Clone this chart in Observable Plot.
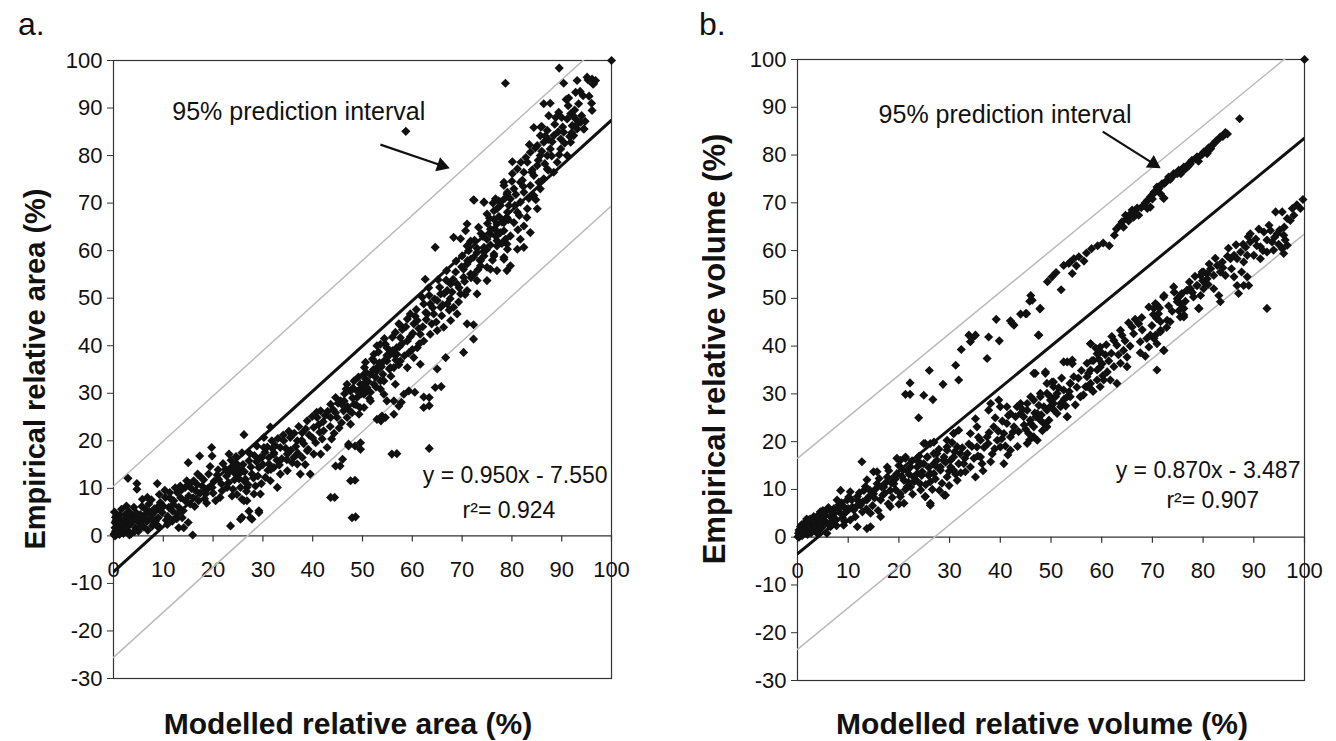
<!DOCTYPE html>
<html>
<head>
<meta charset="utf-8">
<script src="https://cdn.jsdelivr.net/npm/d3@7"></script>
<script src="https://cdn.jsdelivr.net/npm/@observablehq/plot@0.6"></script>
<style>
  html, body { margin: 0; padding: 0; background: #fff; }
  #wrap { position: relative; width: 1336px; height: 741px; background: #fff; font-family: "Liberation Sans", Arial, Helvetica, sans-serif; color: #111; overflow: hidden; }
  .pl { position: absolute; top: 0; }
  .lab { position: absolute; white-space: nowrap; line-height: 1; }
  .ytitle { position: absolute; white-space: nowrap; font-weight: bold; transform: translate(-50%, -50%) rotate(-90deg); line-height: 1; }
  .xtitle { position: absolute; white-space: nowrap; font-weight: bold; font-size: 30px; transform: translate(-50%, -50%); line-height: 1; }
</style>
</head>
<body>
<div id="wrap">
  <div id="pa" class="pl" style="left:0px"></div>
  <div id="pb" class="pl" style="left:668px"></div>
  <div class="lab" style="left:18px; top:8px; font-size:32px;">a.</div>
  <div class="lab" style="left:699px; top:8px; font-size:32px;">b.</div>
  <div class="ytitle" style="left:35px; top:369px; font-size:29px;">Empirical relative area (%)</div>
  <div class="ytitle" style="left:714px; top:349px; font-size:31px;">Empirical relative volume (%)</div>
  <div class="xtitle" style="left:348px; top:724px;">Modelled relative area (%)</div>
  <div class="xtitle" style="left:1042px; top:724px;">Modelled relative volume (%)</div>
</div>
<script>
// ---- tick labels ----
const xTicks = [0, 10, 20, 30, 40, 50, 60, 70, 80, 90, 100];
const yTicks = [-30, -20, -10, 0, 10, 20, 30, 40, 50, 60, 70, 80, 90, 100];

// ---- fitted lines (from the printed equations) ----
const fitSlopes = [0.950, 0.870];
const fitIntercepts = [-7.550, -3.487];
const predHalfWidths = [18.0, 20.0];
const equationTexts = ["y = 0.950x - 7.550", "y = 0.870x - 3.487"];
const r2Texts = ["r\u00B2= 0.924", "r\u00B2= 0.907"];

// ---- panel a: modelled vs empirical relative area (%) ----
const areaPts = [
[0.2,0.5],[0.5,0.2],[0.8,1.2],[1.2,0.3],[1.5,2.0],[0.3,2.8],[1.0,3.5],[2.0,0.5],[2.5,2.8],[3.0,1.0],[3.5,0.4],[1.8,1.0],[0.6,4.2],
[0.4,1.0],[0.3,1.7],[0.7,2.4],[0.3,0.0],[1.1,0.7],[1.7,3.1],[2.1,1.4],[0.4,3.9],[2.7,2.1],[3.4,3.1],[3.7,4.2],[4.4,1.7],[5.1,2.8],
[5.4,4.5],[6.1,3.5],[6.4,5.6],[7.1,6.7],[7.8,4.5],[8.4,3.1],[8.8,6.0],[9.4,7.0],[9.8,4.9],[10.4,8.1],[11.1,6.0],[11.8,3.1],[12.1,7.4],
[12.8,9.1],[13.1,6.0],[13.8,3.8],[14.1,1.7],[14.4,10.2],[15.1,8.4],[15.4,6.7],[16.1,11.6],[16.5,9.5],[17.1,7.4],[17.8,10.5],[18.5,8.8],
[19.1,13.0],[19.8,10.2],[20.5,7.4],[21.1,11.9],[21.8,9.5],[22.5,14.0],[23.1,11.2],[23.8,8.4],[24.5,13.0],[24.8,15.1],[25.5,10.2],
[25.8,13.7],[26.5,11.9],[27.2,15.8],[27.8,13.0],[28.5,10.5],[29.2,14.4],[29.8,16.5],[30.5,12.3],[31.2,15.1],[31.8,20.0],[32.2,17.2],
[28.8,18.9],[30.2,20.7],[7.8,2.1],[9.1,1.7],[10.8,2.4],[13.1,1.7],[6.8,8.1],[13.4,10.5],[4.1,6.0],[2.4,4.5],[5.8,7.7],
[2.9,12.1],[4.7,11.0],[4.7,9.8],[8.8,11.0],[15.0,15.4],[17.3,16.8],[19.8,16.8],[19.7,18.6],[26.2,21.3],[31.5,22.9],[23.2,17.2],
[25.8,17.5],[15.9,0.2],[23.5,2.1],[25.8,3.9],[27.8,3.5],[29.2,5.3],[25.8,7.7],[26.8,7.4],[29.5,8.8],
[24.2,14.4],[25.2,13.0],[26.2,11.6],[24.8,8.7],[26.8,10.2],[28.2,8.8],[26.2,7.4],[27.2,5.2],[29.2,4.9],[25.5,3.5],[27.5,3.8],
[30.2,18.6],[29.5,16.5],[31.2,16.5],[32.2,17.5],[33.5,18.6],[34.2,20.0],[35.5,20.7],[36.9,20.0],[34.9,17.2],[36.2,16.5],[32.2,14.4],
[33.5,13.0],[31.5,11.6],[32.9,10.2],[34.9,13.7],[36.9,15.1],[37.9,16.5],[38.9,17.9],[40.2,17.2],[41.6,17.2],[37.5,13.0],[39.5,13.0],
[37.9,21.7],[38.9,24.2],[40.2,22.8],[40.9,24.9],[41.6,26.3],[42.2,22.1],[43.6,27.7],[44.6,29.1],[45.6,28.4],[46.2,26.3],[46.9,24.9],
[47.6,23.5],[44.9,24.9],[43.6,24.9],[46.9,31.9],[48.9,29.1],[49.9,31.2],[50.6,33.0],[50.9,30.5],[50.3,27.0],[49.3,25.6],[51.6,34.0],
[52.9,34.7],[50.6,36.5],[52.3,36.8],[52.9,40.0],[54.6,40.3],[55.6,38.9],[54.9,36.8],[56.3,35.4],[56.9,38.2],[57.3,44.6],[54.3,32.6],
[56.6,31.9],[53.6,30.9],[54.9,28.4],[56.3,25.6],[52.9,24.5],[53.9,25.2],
[47.2,19.3],[49.6,19.6],[49.6,18.2],[55.9,17.2],[44.6,14.7],[47.6,11.6],[43.6,8.1],[47.9,3.8],
[45.5,14.7],[46.0,16.1],[47.2,18.9],[48.5,18.9],[48.5,11.7],[44.4,8.1],[48.6,4.0],[56.9,17.3],[63.4,18.4],[63.4,27.4],[63.4,29.1],
[65.8,31.4],[53.7,24.2],[54.6,24.9],[57.8,28.1],[58.3,29.8],[60.5,30.2],
[75.0,67.7],[76.4,68.4],[77.7,69.5],[79.0,67.0],[77.0,65.6],[78.4,64.2],[75.7,63.5],[77.0,62.1],[79.0,61.4],[74.4,60.7],[76.4,59.3],
[78.4,58.6],[79.0,55.8],[73.7,57.9],[75.0,56.5],[77.0,55.8],[72.3,58.6],[71.0,57.2],[71.7,55.1],[73.0,53.7],[75.0,53.7],[70.3,54.4],
[69.0,53.0],[69.7,50.9],[71.0,51.6],[73.0,50.9],[67.7,53.0],[67.0,51.6],[65.7,50.9],[65.0,49.5],[63.6,48.8],[62.3,48.8],[63.0,46.7],
[64.3,46.7],[65.7,48.1],[67.0,48.8],[68.3,48.1],[69.0,46.7],[67.7,45.3],[66.3,43.9],[65.0,43.2],[63.6,42.4],[61.6,42.4],[60.3,44.6],
[59.6,46.7],[61.0,45.3],[62.3,41.0],[61.0,39.6],[59.0,41.0],[57.6,41.7],[56.9,39.6],[56.3,38.2],[54.9,39.6],[53.6,40.3],[52.3,38.2],
[54.3,36.8],[55.6,35.4],[57.6,36.8],[59.0,35.4],[60.3,37.5],[61.6,36.1],[52.9,35.4],[51.6,34.0],[50.3,34.0],[49.6,31.9],[50.9,31.2],
[48.3,32.6],[47.6,30.5],[50.3,29.8],[52.3,31.9],[53.6,32.6],[46.3,28.4],[48.3,27.7],[51.6,28.4],[54.3,29.8],
[72.3,70.7],[74.4,70.2],[76.7,70.9],[78.4,73.7],[79.0,71.9],[71.0,65.6],[73.3,64.9],[70.7,64.2],[68.3,62.8],[69.7,62.5],[64.6,60.7],
[62.6,54.0],[57.5,44.4],[70.3,38.6],[72.3,41.4],[71.0,44.6],[72.3,44.4],[65.0,35.1],[66.7,37.5],[64.6,31.2],[62.3,29.2],[62.3,27.0],
[59.3,30.5],[56.3,28.4],[57.3,27.3],
[91.8,88.8],[92.8,87.7],[93.8,87.0],[92.1,86.3],[91.1,87.7],[93.1,85.6],[94.4,85.6],[90.4,84.9],[92.4,84.2],[89.8,83.5],[91.8,82.8],
[88.4,84.2],[87.1,85.3],[85.7,84.2],[84.4,85.9],[86.4,82.8],[85.1,82.1],[87.7,81.4],[89.8,81.4],[91.1,80.0],[89.1,78.6],[87.1,80.0],
[85.7,80.0],[83.7,80.7],[83.1,78.6],[85.1,77.9],[87.1,77.2],[88.4,76.5],[86.4,75.1],[84.4,75.8],[82.4,76.5],[81.1,77.2],[81.7,74.4],
[83.7,73.7],[85.7,73.0],[84.4,71.6],[82.4,72.3],[80.4,73.0],[78.4,74.4],[79.1,72.3],[77.7,70.2],[79.7,70.9],[81.7,70.2],[83.1,68.8],
[85.1,68.8],[81.1,68.1],[79.1,68.1],[77.0,68.8],[76.4,66.6],[78.4,65.9],[80.4,65.9],[82.4,65.2],[83.7,63.8],[81.7,62.4],[79.7,63.1],
[77.7,63.8],[75.7,64.5],[75.0,62.4],[77.0,61.0],[79.1,60.3],[81.1,60.3],[82.4,60.7],[76.4,58.9],[78.4,58.2],[79.7,56.8],[74.4,58.9],
[73.0,59.6],[71.7,58.2],[70.3,56.1],[73.7,56.8],[75.7,56.1],[71.0,61.0],
[58.7,85.1],[78.7,95.2],[89.5,98.4],[90.4,95.2],[93.1,95.8],[96.1,96.1],[96.8,95.8],[95.1,96.5],[96.4,95.1],[91.4,92.1],[92.8,93.3],
[94.3,92.6],[96.1,89.5],[86.4,90.9],[89.4,89.1],[87.4,88.4],[80.1,78.7],[72.4,70.6],[74.4,70.2],[85.8,86.0],[87.7,91.0],
[0.1,0.3],[0.6,0.9],[1.4,1.4],[0.9,2.0],[1.9,2.3],[2.2,3.4],[1.3,4.4],[2.9,3.9],[3.1,5.1],[0.2,5.0],[1.6,5.6],[2.6,6.3],[3.3,2.4],
[4.0,3.2],[4.6,4.8],[5.0,1.0],[5.7,6.2],[6.0,1.9],[6.7,3.0],[7.3,5.0],[7.6,7.6],[8.1,2.6],[8.6,5.4],[9.2,8.7],[9.0,3.8],[10.0,6.3],
[10.3,9.6],[10.9,4.1],[11.4,7.9],[11.9,5.2],[12.4,10.1],[12.7,3.6],[13.5,8.0],[14.0,5.3],[14.7,11.6],[15.0,2.8],[15.7,9.9],[16.3,6.2],
[16.9,13.0],[17.4,9.0],[18.1,11.8],[18.7,6.9],[19.4,14.6],[20.0,9.0],[20.8,12.8],[21.4,8.1],[22.0,15.2],[22.8,10.2],[23.4,13.6],
[24.0,9.8],[24.6,16.7],[25.2,12.0],[26.0,15.0],[26.7,9.4],[27.4,17.3],[28.1,12.2],[28.7,15.6],[29.7,11.0],[30.4,17.6],[31.0,13.8],
[31.9,18.4],[32.8,15.9],
[33.0,20.5],[33.8,16.2],[34.6,18.4],[35.2,22.0],[35.9,15.4],[36.6,18.8],[37.2,23.0],[38.2,19.4],[38.5,15.0],[39.3,21.2],[39.9,25.1],
[40.6,19.6],[41.2,23.4],[41.9,20.4],[42.5,25.3],[42.9,18.6],[43.5,23.0],[44.1,26.6],[44.3,21.6],[45.1,27.9],[45.8,23.8],[46.4,29.9],
[47.0,27.2],[47.9,25.9],[48.1,31.1],[48.7,27.6],[49.2,33.4],[49.8,29.9],[50.4,35.4],[51.1,32.5],[51.4,28.9],[52.0,37.2],[52.6,33.4],
[53.2,38.7],[53.8,35.6],[54.4,41.5],[55.1,37.7],[55.7,33.6],[56.0,41.8],[56.7,37.0],[57.4,39.8],[58.0,43.4],[58.4,37.9],[59.0,45.6],
[59.6,41.9],[60.0,39.2],
[60.8,47.6],[61.3,43.6],[62.0,50.2],[62.8,45.5],[63.3,52.2],[63.9,44.6],[64.5,49.8],[65.2,53.9],[65.9,46.3],[66.4,51.0],[66.9,55.8],
[67.6,49.9],[68.2,54.0],[68.8,57.8],[69.4,52.2],[70.0,58.9],[70.6,50.8],[71.3,60.0],[71.8,54.3],[72.5,62.2],[73.2,56.0],[73.8,63.6],
[74.3,59.8],[75.1,65.7],[75.7,61.2],[76.2,70.0],[76.8,63.0],[77.4,67.2],[78.0,61.5],[78.6,71.0],[79.3,66.5],[80.0,74.6],[80.6,69.5],
[81.2,64.4],[81.8,78.6],[82.3,73.5],[83.0,67.0],[83.5,82.3],[84.1,77.0],[84.8,70.7],[85.3,79.0],[86.0,86.1],[86.6,78.3],[87.3,83.4],
[88.0,79.9],[88.6,86.6],[89.3,85.0],[90.0,88.0],[90.6,82.6],[91.3,90.5],[92.0,84.8],[92.6,89.6],[93.4,90.9],[94.0,88.4],[94.7,87.2],
[95.5,92.5],[96.3,95.0],
[0.5,3.3],[1.2,2.6],[2.3,1.9],[3.2,0.2],[4.2,0.9],[4.9,3.9],[5.6,2.1],[6.3,4.4],[6.9,1.2],[7.5,3.8],[8.2,5.7],[8.9,2.2],[9.6,5.8],
[10.6,3.3],[11.3,9.1],[12.0,6.6],[12.9,4.7],[13.7,9.7],[14.4,7.4],[15.3,11.0],[16.0,8.0],[16.8,10.8],[17.6,12.3],[18.3,7.8],[19.0,10.0],
[20.2,11.5],[21.0,13.9],[21.7,10.9],[22.7,12.6],[23.6,15.9],[24.3,11.8],[25.0,14.2],[26.3,13.5],[27.0,10.8],[27.6,14.5],[28.3,16.9],
[29.0,12.6],[30.0,15.0],[30.9,18.7],[31.6,14.0],[32.5,19.0],[33.3,14.9],[34.1,21.2],[34.8,16.0],[35.6,18.0],[36.3,21.6],[37.0,17.4],
[37.8,20.1],[38.6,22.5],[39.1,18.2],[40.0,20.6],[40.8,26.0],[41.4,21.8],[42.1,24.0],[43.0,26.2],[43.8,20.4],[44.6,25.9],[45.3,22.7],
[46.0,27.5],[46.7,30.9],[47.4,26.4],[48.0,29.0],[49.0,30.4],[49.5,27.0],[50.1,31.8],[50.8,34.3],[51.6,30.2],[52.2,35.0],[52.7,31.3],
[53.4,36.4],[54.1,34.0],[54.9,38.0],[55.4,35.1],[56.1,39.0],[56.6,42.8],[57.3,36.0],[58.0,40.5],[58.7,44.0],[59.3,38.5],[60.1,42.6],
[60.6,46.2],[61.4,40.4],[62.1,44.0],[62.7,47.0],[63.4,50.6],[64.1,48.0],[64.8,45.0],[65.5,52.3],[66.1,48.6],[66.8,53.8],[67.4,47.5],
[68.0,51.3],[68.7,55.5],[69.3,49.2],[69.9,56.6],[70.5,53.5],[71.1,57.9],[71.7,62.0],[72.4,55.0],[73.0,60.5],[73.6,58.0],[74.2,63.0],
[74.9,60.2],[75.5,66.8],[76.1,58.0],[76.7,64.4],[77.3,70.5],[78.0,66.0],[78.7,62.4],[79.4,69.5],[80.1,76.2],[80.8,71.8],[81.5,67.4],
[82.1,74.8],[82.8,79.6],[83.4,71.0],[84.0,76.5],[84.7,81.6],[85.4,74.4],[86.0,80.9],[86.7,84.1],[87.3,76.9],[88.1,82.9],[88.8,88.0],
[89.5,80.2],[90.2,86.0],[90.9,91.8],[91.6,84.0],[92.3,88.4],[93.0,86.5],[93.7,93.5],[94.5,85.6],[95.3,95.9],[96.0,91.0],
[100,100]
];

// ---- panel b: modelled vs empirical relative volume (%) ----
const volumePts = [
[0.1,0.1],[0.5,0.4],[1.0,0.9],[1.5,1.8],[2.0,0.6],[0.8,2.6],[2.8,2.5],[3.5,3.6],[1.8,3.8],[4.2,4.1],[0.3,0.0],[2.4,1.2],[4.8,2.0],[5.5,4.6],
[0.2,0.8],[0.3,1.5],[0.6,2.2],[1.3,2.9],[2.2,3.6],[2.6,1.5],[3.2,4.3],[3.9,2.9],[4.5,5.3],[5.2,3.6],[5.8,5.7],[6.5,4.3],[7.2,6.0],
[7.8,7.8],[8.5,5.0],[9.1,6.4],[9.8,7.8],[10.4,3.6],[11.1,5.7],[11.8,8.5],[12.4,6.7],[13.1,9.8],[13.7,7.8],[14.4,5.0],[15.0,9.1],
[15.7,11.2],[16.4,7.8],[17.0,10.5],[17.7,12.6],[18.3,9.8],[19.0,11.2],[19.6,13.3],[20.3,9.1],[21.0,11.9],[21.6,14.0],[22.3,10.5],
[22.9,12.6],[23.6,14.7],[24.2,11.2],[24.9,15.4],[25.6,16.8],[26.2,13.3],[26.9,15.4],[27.5,17.5],[28.2,14.0],[28.8,16.1],[29.5,18.2],
[30.2,14.7],[30.8,16.8],[31.5,18.9],[31.8,15.4],[29.5,20.3],[14.4,2.2],[11.8,2.2],[9.1,2.5],[6.5,2.2],[3.9,0.8],[5.8,0.8],[18.3,6.4],
[21.0,7.1],[16.4,4.3],[13.7,1.8],
[12.7,15.8],[15.7,13.7],[15.0,13.7],[17.7,14.7],[19.6,16.5],[21.3,16.5],[24.9,19.6],[26.9,19.9],[8.5,9.8],[10.4,9.5],[13.7,12.0],
[25.2,8.5],[26.2,6.7],[29.2,8.8],[30.8,21.7],
[26.0,34.9],[22.2,32.3],[21.3,29.9],[22.2,29.9],[24.9,29.7],[26.7,28.8],[23.9,25.0],[28.7,32.0],[31.2,36.0],[31.8,32.9],[32.3,39.3],
[33.8,42.3],[34.4,41.6],[35.1,42.3],[34.1,40.9],[37.7,41.9],[39.8,41.1],[37.4,37.4],[39.2,45.6],[42.0,45.3],[42.7,44.4],[42.3,44.8],
[44.0,46.7],[45.2,46.8],[47.8,47.8],[47.5,42.3],[45.8,49.4],
[20.3,16.1],[21.3,16.8],[22.3,14.7],[23.6,13.3],[23.0,11.6],[21.6,10.5],[20.3,8.5],[24.3,15.4],[25.2,19.6],[26.2,19.6],[25.6,16.8],
[26.9,17.5],[27.5,16.1],[28.2,14.7],[26.9,13.3],[26.2,11.6],[24.3,9.9],[25.2,8.5],[26.2,7.1],[28.9,16.8],[29.5,18.9],[30.2,16.1],
[30.8,14.0],[29.5,12.6],[31.5,11.9],[28.9,8.8],[32.1,17.5],[33.5,17.5],[32.8,15.4],[34.1,14.7],[35.1,12.6],[36.1,16.8],[35.4,18.9],
[36.4,15.4],[38.1,15.8],[40.7,15.4],[30.8,21.7],[31.8,22.4],[34.1,21.7],[35.4,23.1],[36.1,20.3],[37.4,21.0],[38.7,23.1],[39.4,20.3],
[40.0,18.9],[42.0,18.2],[40.7,21.7],[41.3,23.8],[42.0,21.0],[42.7,23.1],[37.7,26.6],[38.1,28.0],[39.7,28.7],[40.0,27.3],[41.3,27.3],
[42.0,25.9],[43.0,25.2],[43.3,27.3],[44.0,28.0],[45.3,26.6],[45.9,24.5],[46.6,23.1],[47.3,20.3],[45.6,21.7],[46.6,28.7],[47.9,29.4],
[49.2,30.1],[49.9,28.7],[50.5,31.5],[49.2,26.6],[48.6,23.8],[51.2,30.1],[52.5,30.8],[53.8,32.2],[51.9,28.0],[53.2,25.2],[53.8,29.4],
[55.8,29.4],[56.8,31.5],[57.1,33.6],[57.8,35.0],[58.4,37.0],[59.1,38.4],[59.7,39.8],[57.8,40.5],[53.2,36.7],[54.2,36.3],[54.5,33.6],
[57.8,31.1],[59.1,32.9],[35.1,24.8],[46.9,34.3],[48.9,34.3],[50.2,32.5],[59.7,35.6],
[45.0,46.8],[46.0,50.6],[46.3,49.6],[47.9,47.9],[47.6,42.3],[50.2,54.5],[52.0,51.8],[52.5,56.9],[53.5,57.3],[54.5,58.3],[55.5,58.7],
[53.8,57.6],[54.2,55.2],[56.5,57.8],[58.0,60.4],[60.3,61.6],[62.5,63.2],[64.3,64.9],[64.0,66.0],[65.0,66.7],[65.7,67.7],[66.6,68.4],
[67.3,67.4],[66.3,67.0],[64.7,67.4],[68.3,69.5],[69.0,70.5],[69.6,71.2],[70.3,72.2],[71.2,73.3],[71.9,74.0],[72.6,74.3],[73.2,75.4],
[74.2,76.1],[75.2,76.8],[76.2,77.5],[77.2,78.2],[77.8,78.9],[78.8,79.6],[79.8,80.1],[80.8,80.3],[69.0,68.8],[72.2,70.9],[70.9,72.6],
[71.6,71.9],
[79.8,55.5],[80.8,55.2],[80.4,53.1],[78.8,52.7],[76.8,51.7],[74.9,49.9],[75.8,51.0],[75.5,48.9],[72.2,50.3],[69.3,48.2],[70.6,48.9],
[71.2,46.8],[70.9,45.8],[72.9,45.4],[73.5,45.1],[71.6,43.3],[70.6,42.3],[76.2,46.1],[79.1,47.9],[67.3,44.7],[65.3,44.9],[63.7,43.3],
[66.3,42.6],[67.6,40.9],[69.3,39.8],[68.6,37.9],[70.9,40.5],[72.2,39.1],[70.9,35.0],[62.4,41.2],[63.0,40.2],[64.3,39.1],[65.0,37.7],
[63.7,36.4],[65.0,35.7],[62.4,35.7],[61.1,34.6],[61.7,32.9],[60.1,36.3],[59.8,38.8],[57.8,40.5],[58.1,37.0],[57.1,36.4],[59.1,35.0],
[52.5,36.7],[54.2,37.1],[53.8,32.2],[53.2,29.4],[55.8,29.4],[57.8,32.2],[57.1,31.5],[60.4,32.9],[59.7,31.5],[63.0,32.2],[46.6,34.3],
[48.9,34.6],[49.2,32.2],[50.5,32.5],[47.9,30.1],[49.9,29.4],[50.5,28.0],[48.6,27.3],[46.0,29.4],[45.3,28.0],[44.6,25.2],[46.0,23.8],
[47.9,24.5],[49.2,23.1],[46.6,21.0],[45.3,19.6],[53.2,25.2],[51.9,27.3],[51.2,25.9],[44.0,25.9],[47.3,25.9],
[87.2,87.6],[84.4,84.7],[83.4,83.8],[82.8,83.1],[81.8,82.0],[81.1,81.5],[80.1,80.6],[79.5,79.9],[78.5,79.2],[77.5,78.2],[76.9,77.5],
[75.9,76.8],[74.9,76.1],[73.9,75.4],[72.9,74.7],[72.3,74.0],[71.3,73.0],[70.6,72.3],[69.9,71.6],[72.3,71.0],[69.6,69.1],[70.9,73.3],
[77.2,77.8],[78.8,79.6],[82.1,82.4],
[99.7,70.7],[99.2,68.8],[95.6,68.1],[96.6,66.7],[97.2,66.3],[97.9,67.4],[95.9,63.2],[96.2,62.2],[95.6,60.4],[95.9,59.4],[96.6,61.1],
[94.6,63.5],[93.3,64.2],[92.0,63.9],[91.0,64.5],[92.6,62.2],[93.6,61.8],[91.3,60.8],[92.6,59.7],[93.9,60.1],[89.3,63.5],[89.3,61.8],
[88.4,60.7],[87.4,59.7],[86.7,58.3],[86.1,59.0],[85.4,58.3],[88.7,59.0],[90.0,59.0],[91.3,58.3],[88.0,57.6],[83.8,57.6],[82.8,56.9],
[81.5,56.2],[80.1,55.5],[79.5,54.8],[80.8,54.1],[82.1,54.8],[83.4,55.5],[84.4,54.8],[78.8,52.7],[80.1,52.0],[79.5,50.6],[82.1,52.0],
[83.1,50.6],[83.4,49.3],[86.1,54.5],[86.7,52.7],[88.0,52.7],[88.7,54.5],[77.5,52.0],[76.9,51.7],[75.5,50.6],[74.9,49.3],[76.2,47.9],
[75.5,46.1],[72.3,50.6],[70.9,48.6],[70.3,47.9],[70.9,45.8],[71.6,45.1],[69.6,42.3],[70.3,41.6],[71.6,43.0],[72.3,39.1],[79.2,47.9],
[76.2,46.5],[92.6,47.9],[87.0,51.0],[89.0,52.7],[94.3,68.1],
[0.4,1.2],[0.9,0.3],[1.2,1.9],[1.7,0.8],[2.1,2.8],[2.7,0.9],[3.0,3.2],[3.6,1.6],[3.9,4.4],[4.5,2.6],[5.0,5.6],[5.6,3.0],[6.1,6.2],
[6.8,3.4],[7.2,4.9],[7.7,2.4],[8.2,6.8],[8.9,4.0],[9.5,5.2],[10.1,8.4],[10.8,6.3],[11.4,4.3],[12.0,7.6],[12.8,5.3],[13.4,10.6],
[14.1,8.5],[14.8,6.6],[15.4,10.1],[16.1,12.3],[16.8,8.8],[17.4,11.4],[18.0,13.9],[18.7,8.3],[19.3,12.2],[20.0,15.0],[20.6,12.7],
[21.3,10.0],[22.0,13.2],[22.6,16.0],[23.3,12.0],[24.0,17.0],[24.6,13.7],[25.3,11.0],[25.9,14.6],[27.2,12.2],[27.9,18.4],[28.5,11.3],
[29.9,13.8],[30.5,19.8],[31.2,13.2],[32.5,18.7],[33.1,13.7],[33.8,19.5],[34.8,16.5],[35.7,20.9],[36.8,18.8],[37.8,21.9],[38.4,17.4],
[39.0,25.0],[39.6,22.2],[40.4,24.3],[41.0,19.1],[41.6,25.5],[43.6,22.1],[44.4,26.7],[45.0,22.6],[47.0,25.2],[47.6,27.6],[48.3,22.3],
[50.0,27.5],[50.9,29.4],[52.1,33.3],[52.9,27.5],[55.1,31.4],[56.0,34.9],[58.8,39.6],[60.7,38.2],[61.4,36.9],[62.0,42.0],[64.6,41.1],
[66.0,44.0],[67.9,46.0],[68.0,43.4],[69.9,44.3],[73.9,47.3],[74.3,51.3],[77.3,53.4],[78.1,50.3],[81.2,57.2],[84.8,58.8],[85.6,56.2],
[87.9,61.3],[90.6,61.0],[94.1,62.8],[95.1,64.3],
[62.9,64.5],[63.6,65.3],[65.3,66.2],[66.0,68.5],[67.0,68.9],[67.8,69.0],[68.6,70.0],[70.0,70.8],[73.5,74.9],[75.6,76.1],[76.5,77.1],
[79.1,78.7],[80.4,80.7],[81.5,81.3],[82.5,82.9],[83.9,83.9],[84.8,84.4],[49.3,53.5],[51.0,55.4],[55.0,56.8],[57.0,59.5],[59.2,61.0],
[61.5,61.0],
[1.1,1.4],[2.5,3.8],[3.3,2.0],[4.1,1.3],[4.7,3.4],[5.3,4.8],[6.0,2.8],[6.7,5.3],[7.4,3.9],[8.0,5.9],[8.7,7.2],[9.3,3.3],[10.0,6.0],
[10.7,7.8],[11.6,6.4],[12.2,9.3],[12.9,7.4],[13.6,5.9],[14.3,9.8],[15.2,8.2],[15.9,5.6],[16.6,10.5],[17.2,9.2],[17.9,7.0],[18.5,11.4],
[19.4,9.9],[20.0,6.9],[20.8,14.0],[21.9,11.5],[22.7,9.0],[23.7,15.9],[24.5,12.9],[25.8,13.0],[26.6,10.0],[27.3,14.9],[28.0,9.8],
[29.2,15.7],[29.9,10.8],[31.0,17.9],[32.2,13.5],[33.0,16.5],[34.4,19.0],[35.6,17.0],[36.6,13.9],[37.6,19.6],[38.9,18.5],[40.3,20.6],
[41.5,17.2],[42.5,22.0],[43.4,19.0],[44.7,23.5],[45.8,20.4],[46.8,26.0],[48.1,25.6],[49.6,24.5],[50.6,26.6],[51.5,31.3],[52.6,28.9],
[53.6,30.5],[54.8,27.7],[55.4,33.3],[56.4,29.8],[57.4,34.3],[58.3,30.5],[59.4,37.3],[60.2,33.8],[60.9,40.3],[61.9,38.5],[63.3,38.2],
[64.0,42.3],[65.6,40.0],[66.6,45.6],[67.6,38.6],[68.9,41.6],[70.2,46.6],[71.4,48.0],[72.8,43.9],[73.2,48.4],[74.2,52.4],[75.2,47.4],
[76.5,49.4],[77.9,51.2],[78.4,54.6],[79.9,53.7],[81.0,52.9],[82.4,58.4],[83.9,56.4],[85.0,60.5],[86.5,61.2],[87.6,55.5],[88.9,62.9],
[90.4,62.4],[91.8,60.0],[93.0,65.3],[94.9,61.3],[96.0,64.9],[97.6,68.8],[98.5,69.6],
[100,100]
];

const panelPts = [areaPts, volumePts];
const annotText = "95% prediction interval";
// annotation anchors in data units: [textX, textY, arrowX1, arrowY1, arrowX2, arrowY2]
const annotAt = [[11.8, 89.1, 53.6, 82.3, 65.9, 77.9], [16.0, 88.3, 60.2, 84.9, 70.2, 78.2]];
const eqAt = [[99.2, 12.6, 79.4, 5.3], [99.2, 14.0, 81.9, 7.7]];

const font = "'Liberation Sans', Arial, Helvetica, sans-serif";

function panel(i, m) {
  const a = fitSlopes[i], b = fitIntercepts[i], h = predHalfWidths[i];
  const ends = [0, 100];
  const fit = ends.map(x => ({x, y: a * x + b}));
  const upper = ends.map(x => ({x, y: a * x + b + h}));
  const lower = ends.map(x => ({x, y: a * x + b - h}));
  const an = annotAt[i], eq = eqAt[i];
  const ang = Math.atan2(-(an[5] - an[3]) * m.ky, (an[4] - an[2]) * m.kx) * 180 / Math.PI;
  return Plot.plot({
    width: 668, height: 741,
    marginLeft: m.left, marginRight: m.right, marginTop: m.top, marginBottom: m.bottom,
    x: {domain: [0, 100], axis: null},
    y: {domain: [-30, 100], axis: null},
    style: {fontFamily: font, background: "transparent", overflow: "visible", color: "#111"},
    marks: [
      Plot.frame({stroke: "#333", strokeWidth: 1.2}),
      Plot.axisY(yTicks, {tickSize: 6, tickPadding: 5, fontSize: 22, tickFormat: d => String(d), label: null, stroke: "#333", fill: "#111"}),
      Plot.ruleY([0], {stroke: "#333", strokeWidth: 1.2}),
      Plot.ruleX(xTicks, {x: d => d, y1: 0, y2: -6 / m.ky, stroke: "#333", strokeWidth: 1.2}),
      Plot.text(xTicks, {x: d => d, y: 0, dy: 34, text: d => String(d), fontSize: 22, fill: "#111"}),
      Plot.line(upper, {x: "x", y: "y", stroke: "#bbb", strokeWidth: 1.5, clip: true}),
      Plot.line(lower, {x: "x", y: "y", stroke: "#bbb", strokeWidth: 1.5, clip: true}),
      Plot.dot(panelPts[i], {x: d => d[0], y: d => d[1], symbol: "diamond2", r: 4.1, fill: "#111", stroke: "none"}),
      Plot.line(fit, {x: "x", y: "y", stroke: "#111", strokeWidth: 3, clip: true}),
      Plot.text([annotText], {x: an[0], y: an[1], text: d => d, textAnchor: "start", fontSize: 25, fill: "#111"}),
      Plot.link([0], {x1: an[2], y1: an[3], x2: an[4], y2: an[5], stroke: "#111", strokeWidth: 2.2}),
      Plot.dot([0], {x: an[4], y: an[5], symbol: "triangle", r: 5.5, fill: "#111", stroke: "none", rotate: 90 + ang}),
      Plot.text([equationTexts[i]], {x: eq[0], y: eq[1], text: d => d, textAnchor: "end", fontSize: 23, fill: "#111"}),
      Plot.text([r2Texts[i]], {x: eq[2], y: eq[3], text: d => d, fontSize: 23, fill: "#111"})
    ]
  });
}

const mA = {left: 113, right: 57, top: 60, bottom: 63, kx: 4.98, ky: 4.75};
const mB = {left: 129, right: 32, top: 59, bottom: 61, kx: 5.07, ky: 4.78};
document.getElementById("pa").appendChild(panel(0, mA));
document.getElementById("pb").appendChild(panel(1, mB));
</script>
</body>
</html>
